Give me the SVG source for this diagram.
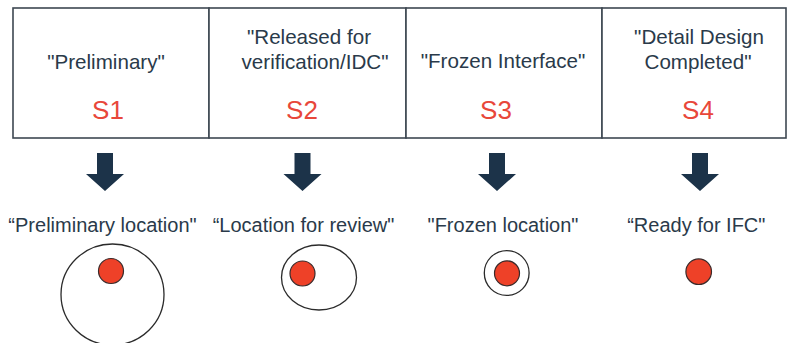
<svg xmlns="http://www.w3.org/2000/svg" width="787" height="343" viewBox="0 0 787 343">
<style>
.t{font-family:"Liberation Sans",Arial,sans-serif;font-size:20px;fill:#2a3a4a;text-anchor:middle}
.h{font-size:20.6px}
.s{font-family:"Liberation Sans",Arial,sans-serif;font-size:26px;fill:#e8473a;text-anchor:middle}
.cell{fill:#fff;stroke:#3e4852;stroke-width:1.6}
.arr{fill:#1c3349}
.ring{fill:none;stroke:#2b2b2b;stroke-width:1.3}
.dot{fill:#ee4128;stroke:#3a2a2a;stroke-width:1.2}
</style>
<rect width="787" height="343" fill="#fff"/>
<g id="s1">
<rect class="cell" x="13" y="8" width="196" height="130"/>
<text class="t h" x="106" y="69">"Preliminary"</text>
<text class="s" x="108" y="119">S1</text>
</g>
<g id="s2">
<rect class="cell" x="209" y="8" width="197" height="130"/>
<text class="t h" x="309" y="44">"Released for</text>
<text class="t h" x="315" y="69">verification/IDC"</text>
<text class="s" x="302" y="119">S2</text>
</g>
<g id="s3">
<rect class="cell" x="406" y="8" width="196" height="130"/>
<text class="t h" x="503" y="68">"Frozen Interface"</text>
<text class="s" x="496" y="119">S3</text>
</g>
<g id="s4">
<rect class="cell" x="602" y="8" width="184" height="130"/>
<text class="t h" x="699" y="44">"Detail Design</text>
<text class="t h" x="698" y="69">Completed"</text>
<text class="s" x="698" y="119">S4</text>
</g>
<g id="connectors">
<path class="arr" d="M97 153H113V174H124L105 191L86 174H97Z"/>
<path class="arr" d="M294.5 153H310.5V174H321.5L302.5 191L283.5 174H294.5Z"/>
<path class="arr" d="M489 153H505V174H516L497 191L478 174H489Z"/>
<path class="arr" d="M692 153H708V174H719L700 191L681 174H692Z"/>
</g>
<g id="l1">
<text class="t" x="102.5" y="232">“Preliminary location"</text>
<ellipse class="ring" cx="112.5" cy="294.5" rx="51.5" ry="50.5"/>
<circle class="dot" cx="111" cy="271" r="12.5"/>
</g>
<g id="l2">
<text class="t" x="303.5" y="232">“Location for review"</text>
<ellipse class="ring" cx="319" cy="277.5" rx="37.5" ry="32.5"/>
<circle class="dot" cx="302.5" cy="273.5" r="12.5"/>
</g>
<g id="l3">
<text class="t" x="503" y="232">"Frozen location"</text>
<circle class="ring" cx="506.7" cy="273" r="22.4"/>
<circle class="dot" cx="507" cy="273.3" r="12.5"/>
</g>
<g id="l4">
<text class="t" x="696.3" y="232">“Ready for IFC"</text>
<circle class="dot" cx="698.7" cy="271.7" r="12.8"/>
</g>
</svg>
